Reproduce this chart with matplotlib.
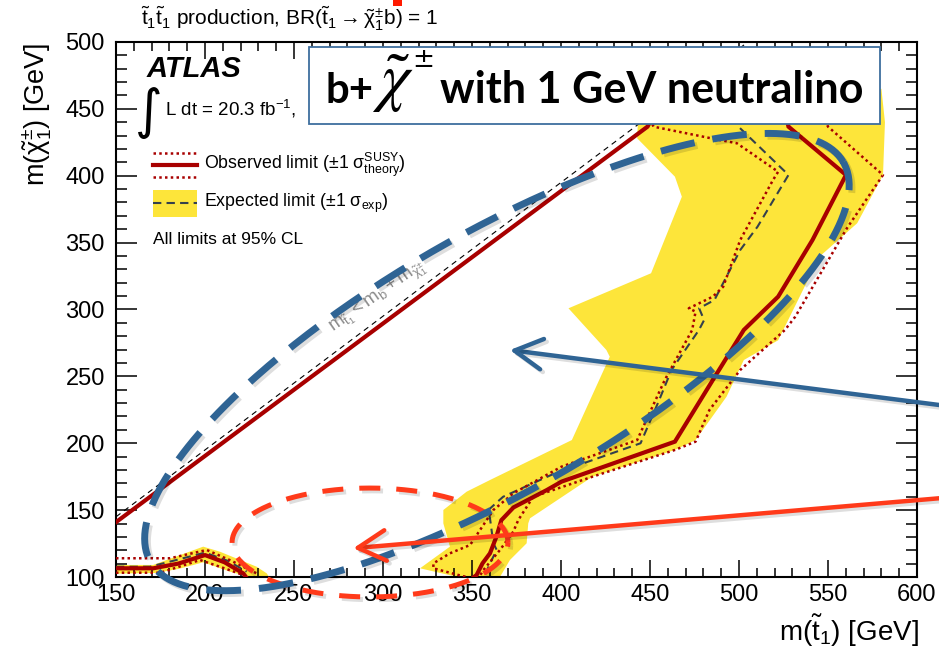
import numpy as np
import matplotlib
matplotlib.use('Agg')
import matplotlib.pyplot as plt
from matplotlib.patches import Rectangle, Polygon
import matplotlib.patheffects as pe

plt.rcParams['font.family'] = ['Liberation Sans', 'DejaVu Sans']
plt.rcParams['mathtext.fontset'] = 'custom'
plt.rcParams['mathtext.rm'] = 'Liberation Sans'
plt.rcParams['mathtext.it'] = 'Liberation Sans:italic'
plt.rcParams['mathtext.bf'] = 'Liberation Sans:bold'

# ---------------- data (GeV) ----------------
x_ticks = [150, 200, 250, 300, 350, 400, 450, 500, 550, 600]
y_ticks = [100, 150, 200, 250, 300, 350, 400, 450, 500]

# kinematic boundary m(t1) = m(b) + m(chi)
kin_x = [150, 505]
kin_y = [145, 500]

# observed limit (main contour)
obs_x = [150, 448.6, 462, 522, 527.8, 560.1, 541.3, 522, 502.7, 485.3, 464, 400.3, 392, 373.3, 366.5,
         363.7, 360.1, 355.9, 352.6, 351.1]
obs_y = [141, 436.7, 470, 470, 436.7, 400.6, 352, 309.6, 284.7, 247.3, 201.2, 171.3, 165, 152, 142.5,
         130.1, 117.7, 110.2, 101.5, 100]
# observed +1 sigma theory (outer)
obs_up_x = [540, 550, 580.9, 560.6, 531.6, 525.8, 500.7, 483.4, 475.6, 464, 417.7, 384.4, 376, 373.2,
            365.7, 356.4, 354]
obs_up_y = [465, 436.7, 400.6, 360.7, 294.6, 284.7, 254.8, 224.9, 201.2, 195, 175, 160, 142.6, 133.9,
            120.2, 105.2, 100]
# observed -1 sigma theory (inner)
obs_dn_x = [447, 452, 489.2, 498.8, 522, 519.1, 500.7, 491.1, 485.3, 471.8, 475.6, 473.7, 458.3, 442.8,
            400.3, 373.3, 362, 354.5, 348.9, 337.6, 328.3, 328.3, 342.3, 347]
obs_dn_y = [450, 436.7, 426.7, 424.3, 403, 396.8, 352, 317, 309.6, 300.9, 298.4, 284.7, 247.3, 202.4,
            182.5, 162.6, 150.1, 135.1, 123.9, 117.7, 110.2, 106.5, 101.5, 100]
# expected limit
exp_x = [497, 499.7, 527.8, 510.4, 500.7, 486.2, 477.6, 480.4, 477.5, 462.1, 454.4, 444.7, 396.5, 367.5,
         359.2, 360.1, 362, 363.9, 360.1, 357.3, 357]
exp_y = [455, 436.7, 400.6, 361.9, 344.5, 307.1, 300.9, 292.1, 284.7, 254.8, 229.9, 200, 177.5, 160,
         150.1, 143.9, 125.2, 120.2, 110.2, 101.5, 100]
# expected +-1 sigma band (main)
band_x = [444, 442.8, 464, 467.9, 450.6, 404.2, 425.5, 427.4, 406.1, 360.1, 347, 333.9, 333.9, 337.6,
          320.8, 342, 365.7, 371.3, 380.7, 381.6, 382.6, 417.7, 464, 475.6, 493, 502.7, 522, 545.2,
          566.4, 580.9, 582, 580]
band_y = [465, 428, 399.3, 384.3, 327.1, 300.9, 269.7, 264.7, 202.4, 172.5, 163.8, 150.1, 140.1, 122.7,
          106.5, 100, 100, 112.7, 125.2, 140.1, 143.9, 175, 195, 202.4, 234.8, 262.2, 277, 339.5,
          364.5, 400.6, 440, 465]

# low-mass island
low_obs_x = [150, 170.9, 185, 200, 211, 221.5, 223]
low_obs_y = [106.5, 106.5, 110, 116.4, 111, 102.7, 100]
low_up_x = [150, 180.3, 201, 215, 229]
low_up_y = [114, 114, 120.2, 112, 102.7]
low_dn_x = [150, 175, 197.2, 212, 221.5]
low_dn_y = [103.2, 103.2, 112.7, 106, 101.5]
low_exp_x = [150, 169.1, 200, 213, 223.4]
low_exp_y = [107.7, 107.7, 118.2, 112, 104]
low_band_x = [150, 170.9, 199, 208.4, 229, 234.7, 236, 225, 214, 199, 185, 172, 150]
low_band_y = [109, 109, 122.7, 118.9, 107.7, 102.7, 100, 100, 104, 111, 106, 103, 102.5]

# annotations (GeV coordinates)
blue_ell_c = (364.0, 260.7)
blue_ell_p = (194.6, 149.5)
blue_ell_q = (-36.0, 82.9)
red_ell_c = (292.7, 125.8)
red_ell_ax = (77.5, 40.7)
blue_arrow_tail = (624.2, 226.6)
blue_arrow_tip = (371.3, 269.7)
red_arrow_tail = (624.2, 160.2)
red_arrow_tip = (283.3, 121.5)

# ---------------- colours ----------------
C_OBS = '#A80000'
C_BAND = '#FDE53A'
C_EXP = '#34404C'
C_BLUE = '#2F6494'
C_RED = '#FF3A1A'

W, H = 939, 649
AX_L, AX_R, AX_T, AX_B = 116, 917, 42, 577
fig = plt.figure(figsize=(W / 100, H / 100), dpi=100)
ax = fig.add_axes([AX_L / W, 1 - AX_B / H, (AX_R - AX_L) / W, (AX_B - AX_T) / H])
ax.set_xlim(150, 600)
ax.set_ylim(100, 500)


def fx(px):
    return (px - AX_L) / (AX_R - AX_L)


def fy(py):
    return (AX_B - py) / (AX_B - AX_T)


# band
ax.add_patch(Polygon(np.column_stack([band_x, band_y]), closed=True, fc=C_BAND, ec='none', zorder=1))
ax.add_patch(Polygon(np.column_stack([low_band_x, low_band_y]), closed=True, fc=C_BAND, ec='none', zorder=1))

# kinematic line
ax.plot(kin_x, kin_y, color='black', lw=0.8, ls=(0, (5, 4)), zorder=2)

dot = (0, (1, 1.3))
ax.plot(exp_x, exp_y, color=C_EXP, lw=1.5, ls=(0, (4, 2.5)), zorder=3)
ax.plot(low_exp_x, low_exp_y, color=C_EXP, lw=1.5, ls=(0, (4, 2.5)), zorder=3)
for xs, ys in [(obs_up_x, obs_up_y), (obs_dn_x, obs_dn_y), (low_up_x, low_up_y), (low_dn_x, low_dn_y)]:
    ax.plot(xs, ys, color=C_OBS, lw=1.8, ls=dot, zorder=4)
ax.plot(obs_x, obs_y, color=C_OBS, lw=3.0, zorder=5, solid_joinstyle='miter')
ax.plot(low_obs_x, low_obs_y, color=C_OBS, lw=3.0, zorder=5)

# diagonal text
ax.text(297, 309, r'$\mathrm{m}_{\tilde{\mathrm{t}}_{1}} < \mathrm{m}_{\mathrm{b}} + \mathrm{m}_{\tilde{\mathrm{\chi}}^{\pm}_{1}}$',
        color='#8a8a8a', fontsize=13.5, rotation=35, ha='center', va='center', rotation_mode='anchor', zorder=6)

# axes styling
ax.set_xticks(x_ticks)
ax.set_yticks(y_ticks)
ax.set_xticks(np.arange(150, 601, 10), minor=True)
ax.set_yticks(np.arange(100, 501, 10), minor=True)
ax.tick_params(which='both', direction='in', top=True, right=True, width=1.1, labelsize=17)
ax.tick_params(axis='x', which='major', length=12, pad=5)
ax.tick_params(axis='x', which='minor', length=6.5)
ax.tick_params(axis='y', which='major', length=15, pad=8)
ax.tick_params(axis='y', which='minor', length=8)
for s in ax.spines.values():
    s.set_linewidth(1.5)

fig.text(919 / W, 1 - 631 / H, r'm($\tilde{\mathrm{t}}_{1}$) [GeV]', ha='right', va='center', fontsize=20)
fig.text(37 / W, 1 - 43 / H, r'm($\tilde{\mathrm{\chi}}^{\pm}_{1}$) [GeV]', ha='center', va='top', rotation=90, fontsize=19.5)
fig.text(141 / W, 1 - 19 / H,
         r'$\tilde{\mathrm{t}}_{1}\tilde{\mathrm{t}}_{1}$ production, BR($\tilde{\mathrm{t}}_{1} \rightarrow \tilde{\mathrm{\chi}}^{\pm}_{1}$b) = 1',
         ha='left', va='center', fontsize=15)

# ATLAS labels
ax.text(fx(147), fy(69), 'ATLAS', transform=ax.transAxes, fontsize=21, fontweight='bold', fontstyle='italic',
        ha='left', va='center', zorder=8)
ax.text(fx(147), fy(113), r'$\int$', transform=ax.transAxes, fontsize=27, ha='center', va='center', zorder=8,
        math_fontfamily='dejavusans')
ax.text(fx(165), fy(109), r'L dt = 20.3 fb$^{-1}$,', transform=ax.transAxes, fontsize=13.5, ha='left',
        va='center', zorder=8)

# legend
lx0, lx1 = fx(153), fx(197)
ax.plot([lx0, lx1], [fy(153)] * 2, transform=ax.transAxes, color=C_OBS, lw=1.8, ls=dot, zorder=8)
ax.plot([lx0, lx1], [fy(177)] * 2, transform=ax.transAxes, color=C_OBS, lw=1.8, ls=dot, zorder=8)
ax.plot([lx0, lx1], [fy(165)] * 2, transform=ax.transAxes, color=C_OBS, lw=3.0, zorder=8)
ax.add_patch(Rectangle((lx0, fy(217)), lx1 - lx0, fy(190) - fy(217), transform=ax.transAxes, fc=C_BAND,
                       ec='none', zorder=7))
ax.plot([lx0, lx1], [fy(203)] * 2, transform=ax.transAxes, color=C_EXP, lw=1.5, ls=(0, (4, 2.5)), zorder=8)
ax.text(fx(204), fy(165), r'Observed limit ($\pm$1 $\mathrm{\sigma}^{\mathrm{SUSY}}_{\mathrm{theory}}$)',
        transform=ax.transAxes, fontsize=12.8, ha='left', va='center', zorder=8)
ax.text(fx(204), fy(203), r'Expected limit ($\pm$1 $\mathrm{\sigma}_{\mathrm{exp}}$)', transform=ax.transAxes,
        fontsize=12.8, ha='left', va='center', zorder=8)
ax.text(lx0, fy(240), 'All limits at 95% CL', transform=ax.transAxes, fontsize=12.5, ha='left', va='center',
        zorder=8)

# box with headline
ax.add_patch(Rectangle((fx(309), fy(123.5)), fx(880) - fx(309), fy(47) - fy(123.5), transform=ax.transAxes,
                       fc='white', ec='#3E6E9E', lw=1.3, zorder=20, clip_on=False))
base_y = fy(103)
t1 = ax.text(fx(325), base_y, 'b+', transform=ax.transAxes, fontsize=28, fontweight='bold',
             family='Lato', ha='left', va='baseline', zorder=21)
t2 = ax.text(fx(372), fy(100), r'$\tilde{\chi}$', transform=ax.transAxes, fontsize=47,
             math_fontfamily='stix', ha='left', va='baseline', zorder=21)
t3 = ax.text(fx(423), fy(60), r'$\pm$', transform=ax.transAxes, fontsize=19,
             math_fontfamily='dejavusans', ha='center', va='center', zorder=21)
t4 = ax.text(fx(440), base_y, 'with 1 GeV neutralino', transform=ax.transAxes, fontsize=28,
             fontweight='bold', family='Lato', ha='left', va='baseline', zorder=21)
fig.canvas.draw()
r = fig.canvas.get_renderer()
t4.set_fontsize(28 * 423.0 / t4.get_window_extent(r).width)
t1.set_fontsize(28 * 48.0 / t1.get_window_extent(r).width)

# annotations
shadow = [pe.SimpleLineShadow(offset=(2, -2), shadow_color='black', alpha=0.13), pe.Normal()]
t = np.linspace(0, 2 * np.pi, 400)
ex = blue_ell_c[0] + blue_ell_p[0] * np.cos(t) + blue_ell_q[0] * np.sin(t)
ey = blue_ell_c[1] + blue_ell_p[1] * np.cos(t) + blue_ell_q[1] * np.sin(t)
ax.plot(ex, ey, color=C_BLUE, lw=5, ls=(0, (5, 2.6)), clip_on=False, zorder=15, path_effects=shadow,
        dash_capstyle='butt')
rx = red_ell_c[0] + red_ell_ax[0] * np.cos(t)
ry = red_ell_c[1] + red_ell_ax[1] * np.sin(t)
ax.plot(rx, ry, color=C_RED, lw=3.6, ls=(0, (4.2, 3.2)), clip_on=False, zorder=14, path_effects=shadow,
        dash_capstyle='butt')

for tail, tip, col in [(blue_arrow_tail, blue_arrow_tip, C_BLUE), (red_arrow_tail, red_arrow_tip, C_RED)]:
    ax.annotate('', xy=tip, xytext=tail, xycoords='data', textcoords='data', annotation_clip=False,
                arrowprops=dict(arrowstyle='->,head_length=1.0,head_width=0.55', color=col, lw=3.2,
                                shrinkA=0, shrinkB=0, mutation_scale=20,
                                path_effects=shadow), zorder=16)

# red fragment at the very top
fig.patches.append(Rectangle((393 / W, 1 - 6 / H), 9 / W, 6 / H, transform=fig.transFigure, fc='#FF1A00',
                             ec='none', figure=fig))

fig.savefig('out.png', dpi=100)
